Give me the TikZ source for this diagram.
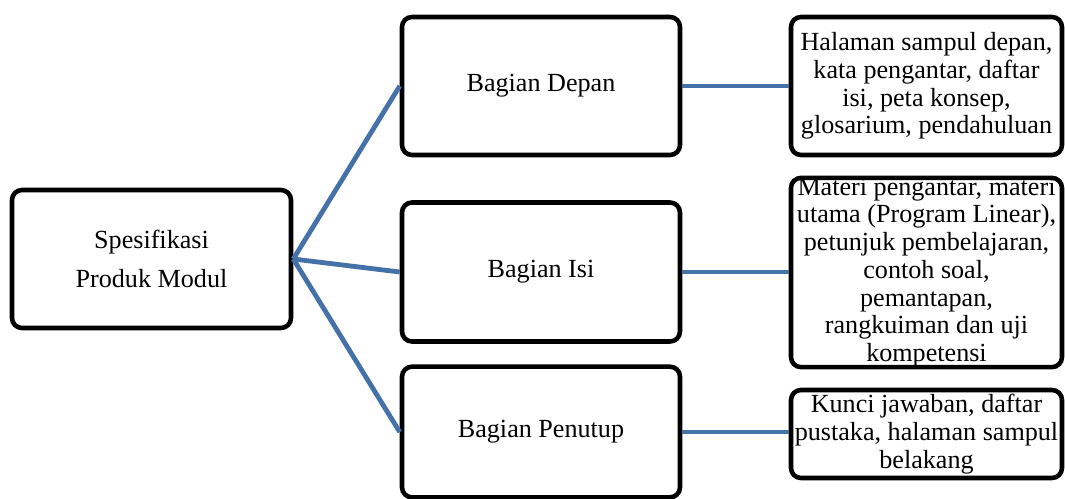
\documentclass[tikz,border=0pt]{standalone}
\usepackage{fontspec}
\setmainfont{Liberation Serif}

\tikzset{every picture/.style={line width=0.75pt}}
\definecolor{linkblue}{RGB}{68,114,168}
\tikzset{
  box/.style={draw, fill=white, line width=3.4pt, rounded corners=7.5pt, align=center, inner sep=0pt},
  link/.style={draw=linkblue, line width=3.6pt}
}

\begin{document}
\begin{tikzpicture}[x=0.75pt,y=0.75pt,yscale=-1,xscale=1]
\useasboundingbox (0,0) rectangle (1065,499);

%Rounded Rect
\draw (151.5,259) node (spek) [box, minimum width=209.25pt, minimum height=103.5pt, font=\fontsize{19.6}{29.3}\selectfont] {Spesifikasi\\Produk Modul};
%Rounded Rect
\draw (541,86) node (depan) [box, minimum width=208.5pt, minimum height=103.5pt, font=\fontsize{19.6}{21}\selectfont] {Bagian Depan};
%Rounded Rect
\draw (541,272) node (isi) [box, minimum width=208.5pt, minimum height=104.25pt, font=\fontsize{19.6}{21}\selectfont] {Bagian Isi};
%Rounded Rect
\draw (541,432) node (penutup) [box, minimum width=208.5pt, minimum height=98pt, font=\fontsize{19.6}{21}\selectfont] {Bagian Penutup};

%Rounded Rect
\draw (926.5,86) node (rdepan) [box, minimum width=203.25pt, minimum height=103.5pt, font=\fontsize{19.6}{20.8}\selectfont] {Halaman sampul depan,\\kata pengantar, daftar\\isi, peta konsep,\\glosarium, pendahuluan};
%Rounded Rect
\draw (926.5,272.5) node (risi) [box, minimum width=203.25pt, minimum height=138.75pt, font=\fontsize{19.6}{20.8}\selectfont] {Materi pengantar, materi\\utama (Program Linear),\\petunjuk pembelajaran,\\contoh soal,\\pemantapan,\\rangkuiman dan uji\\kompetensi};
%Rounded Rect
\draw (926.5,434) node (rpenutup) [box, minimum width=203.25pt, minimum height=66pt, font=\fontsize{19.6}{20.8}\selectfont] {Kunci jawaban, daftar\\pustaka, halaman sampul\\belakang};

%Straight Lines
\draw [link] (spek.east) -- (depan.west) ;
\draw [link] (spek.east) -- (isi.west) ;
\draw [link] (spek.east) -- (penutup.west) ;

%Straight Lines
\draw [link] (depan.east) -- (rdepan.west) ;
\draw [link] (isi.east) -- (isi.east -| risi.west) ;
\draw [link] (penutup.east) -- (penutup.east -| rpenutup.west) ;

\end{tikzpicture}
\end{document}
